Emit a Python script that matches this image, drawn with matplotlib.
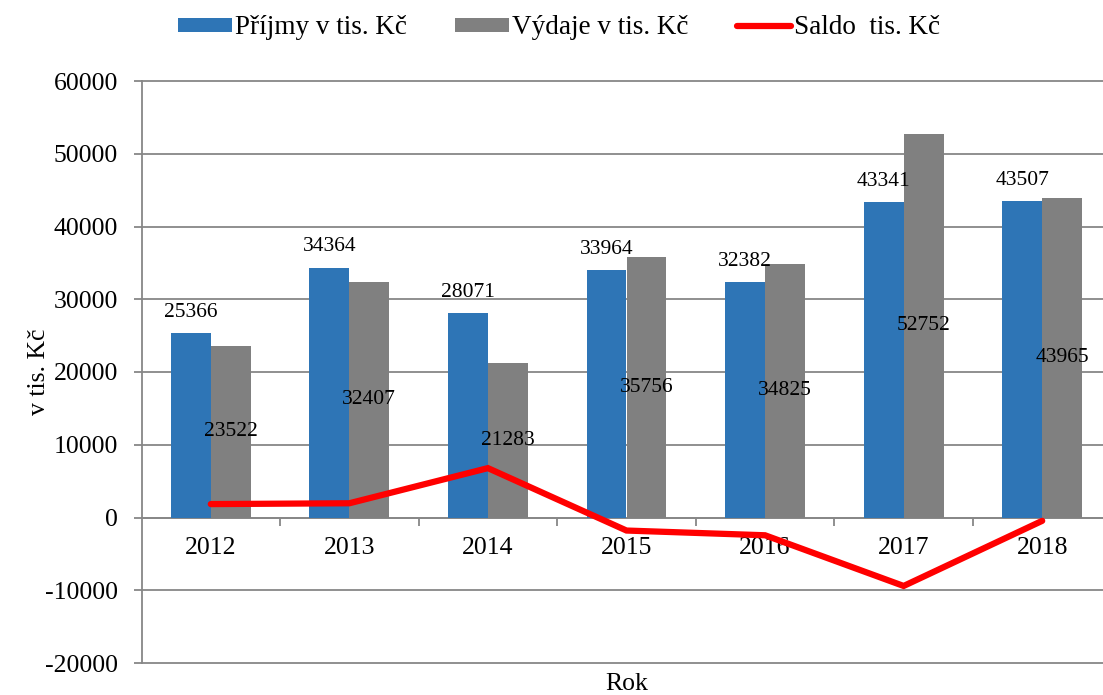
import matplotlib
matplotlib.use("Agg")
import matplotlib.pyplot as plt
import numpy as np
from matplotlib.ticker import FixedLocator

plt.rcParams['font.family'] = ['Liberation Serif', 'DejaVu Serif']

years = ['2012', '2013', '2014', '2015', '2016', '2017', '2018']
prijmy = [25366, 34364, 28071, 33964, 32382, 43341, 43507]
vydaje = [23522, 32407, 21283, 35756, 34825, 52752, 43965]
saldo = [p - v for p, v in zip(prijmy, vydaje)]

BLUE = '#2E75B6'
GREY = '#808080'
RED = '#FF0000'
GRID = '#878787'

fig = plt.figure(figsize=(11.03, 6.95), dpi=100)
ax = fig.add_axes([141.5 / 1103, 1 - 663 / 695, 970 / 1103, 582 / 695])

x = np.arange(len(years))
w = 0.288
b1 = ax.bar(x - w / 2, prijmy, w, color=BLUE, label='Příjmy v tis. Kč', zorder=3)
b2 = ax.bar(x + w / 2, vydaje, w, color=GREY, label='Výdaje v tis. Kč', zorder=3)
ln, = ax.plot(x, saldo, color=RED, lw=4.5, solid_capstyle='round',
              solid_joinstyle='miter', label='Saldo  tis. Kč', zorder=4)

for xi, v in zip(x, prijmy):
    ax.annotate(str(v), (xi - w / 2, v), xytext=(0, 15), textcoords='offset points',
                ha='center', va='center', fontsize=15.5, zorder=5)
for xi, v in zip(x, vydaje):
    ax.text(xi + w / 2, v / 2, str(v), ha='center', va='center', fontsize=15.5, zorder=5)

ax.set_xlim(-0.5, 6.5)
ax.set_ylim(-20000, 60000)
ax.set_yticks(np.arange(-20000, 60001, 10000))
ax.set_yticklabels([str(v) for v in range(-20000, 60001, 10000)])
ax.yaxis.grid(True, color=GRID, lw=1.3, zorder=0)
for gl in ax.get_ygridlines():
    gl.set_clip_on(False)

ax.spines['right'].set_visible(False)
ax.spines['top'].set_visible(False)
ax.spines['left'].set_color(GRID)
ax.spines['left'].set_linewidth(1.3)
ax.spines['bottom'].set_position(('data', 0))
ax.spines['bottom'].set_color(GRID)
ax.spines['bottom'].set_linewidth(1.3)

ax.set_xticks(x)
ax.set_xticklabels(years)
ax.xaxis.set_minor_locator(FixedLocator(np.arange(0.5, 6.0, 1.0)))
ax.tick_params(axis='x', which='major', length=0, pad=14, labelsize=18.5)
ax.tick_params(axis='x', which='minor', length=6, width=1.3, color=GRID, direction='out')
ax.tick_params(axis='y', length=6, width=1.3, color=GRID, pad=11, labelsize=18.5)

ax.set_ylabel('v tis. Kč', fontsize=18.5, labelpad=-4)
fig.text(627 / 1103, 1 - 684 / 695, 'Rok', ha='center', va='center', fontsize=18.5)

fig.legend(handles=[b1, b2, ln], loc='center', bbox_to_anchor=(559 / 1103, 1 - 28 / 695),
           ncol=3, frameon=False, fontsize=19.5, handlelength=2.0, handleheight=0.42,
           handletextpad=0.1, columnspacing=1.8)

fig.savefig('out.png', dpi=100)
